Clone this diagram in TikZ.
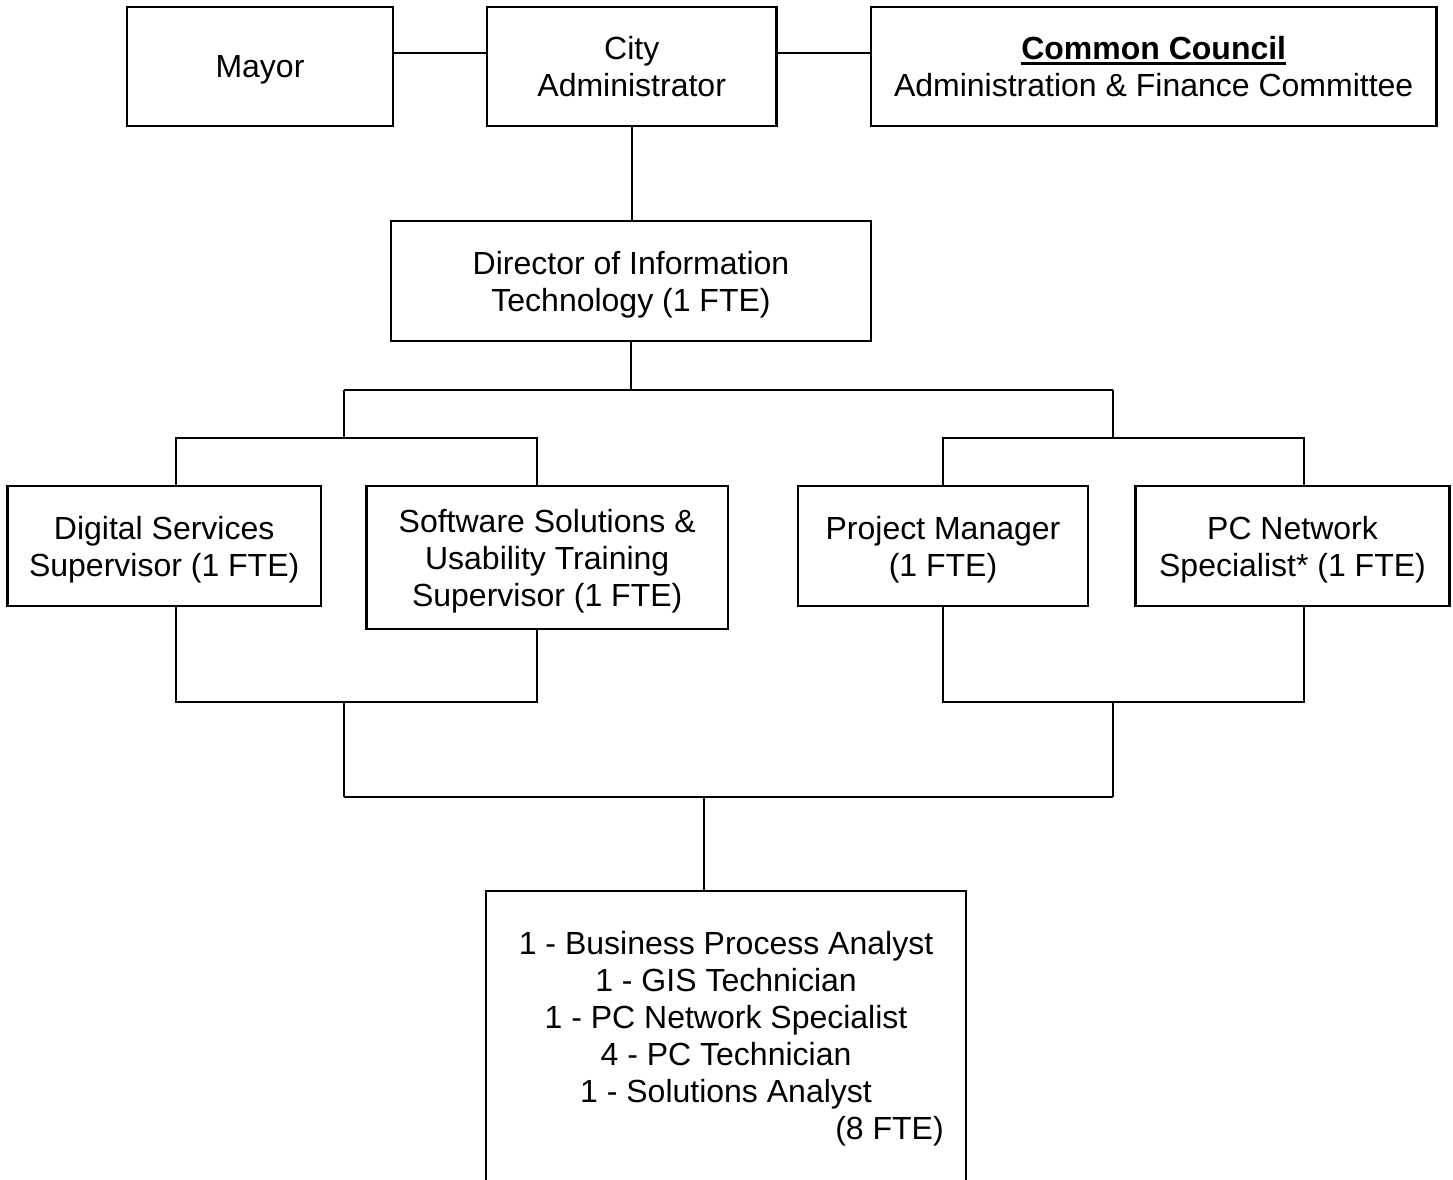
\documentclass[tikz,border=0pt]{standalone}
\usepackage{fontspec}
\setmainfont{Liberation Sans}
\newcommand{\ulbold}[1]{\setbox0\hbox{\textbf{#1}}\rlap{\rule[-5pt]{\wd0}{3pt}}\box0}
\begin{document}
\begin{tikzpicture}[x=1pt,y=-1pt,
  box/.style={draw, line width=2.3pt, inner sep=0pt, align=center, text depth=0pt, font=\fontsize{32}{37}\selectfont},
  conn/.style={line width=2pt}]
\useasboundingbox[fill=white] (0,0) rectangle (1453,1179);
% top row
\node[box, minimum width=265.5pt, minimum height=119pt] (mayor) at (260,66.5) {Mayor};
\node[box, minimum width=289.5pt, minimum height=119pt] (admin) at (631.7,66.5) {City\\Administrator};
\node[box, minimum width=565.5pt, minimum height=119pt] (council) at (1153.7,66.5) {\ulbold{Common Council}\\Administration \& Finance Committee};
% director
\node[box, minimum width=480pt, minimum height=120pt] (director) at (631,281) {Director of Information\\Technology (1 FTE)};
% second row
\node[box, minimum width=313.5pt, minimum height=120pt] (digital) at (164.2,546) {Digital Services\\Supervisor (1 FTE)};
\node[box, minimum width=361.5pt, minimum height=143pt] (software) at (547.2,557.5) {Software Solutions \&\\Usability Training\\Supervisor (1 FTE)};
\node[box, minimum width=290pt, minimum height=120pt] (pm) at (943,546) {Project Manager\\(1 FTE)};
\node[box, minimum width=314pt, minimum height=120pt] (pcn) at (1292.5,546) {PC Network\\Specialist* (1 FTE)};
% staff box (open at the bottom)
\node[box, draw=none, minimum width=478pt, minimum height=287pt] (staff) at (726,1035.5)
  {1 - Business Process Analyst\\1 - GIS Technician\\1 - PC Network Specialist\\4 - PC Technician\\1 - Solutions Analyst\\\hspace*{327pt}(8 FTE)};
\draw[line width=2.3pt] (staff.south west) -- (staff.north west) -- (staff.north east) -- (staff.south east);
% connectors
\coordinate (ty) at (0,53);
\draw[conn] (mayor.east |- ty) -- (admin.west |- ty);
\draw[conn] (admin.east |- ty) -- (council.west |- ty);
\draw[conn] (admin.south) -- (admin.south |- director.north);
\coordinate (j0) at (631,390);
\coordinate (jl) at (344,390);
\coordinate (jr) at (1112.5,390);
\draw[conn] (director.south) -- (j0);
\draw[conn] (jl) -- (jr);
\coordinate (jl2) at (344,437.5);
\coordinate (xl1) at (176,437.5);
\coordinate (xl2) at (537,437.5);
\draw[conn] (jl) -- (jl2);
\draw[conn] (digital.north -| xl1) -- (xl1) -- (xl2) -- (software.north -| xl2);
\coordinate (jr2) at (1112.5,438);
\coordinate (xr1) at (943,438);
\coordinate (xr2) at (1303.5,438);
\draw[conn] (jr) -- (jr2);
\draw[conn] (pm.north -| xr1) -- (xr1) -- (xr2) -- (pcn.north -| xr2);
% lower joins
\coordinate (bl1) at (176,701.5);
\coordinate (bl2) at (537,701.5);
\coordinate (bl0) at (344,701.5);
\coordinate (ml) at (344,797);
\draw[conn] (digital.south -| bl1) -- (bl1) -- (bl2) -- (software.south -| bl2);
\draw[conn] (bl0) -- (ml);
\coordinate (br1) at (943,702);
\coordinate (br2) at (1303.5,702);
\coordinate (br0) at (1113,702);
\coordinate (mr) at (1113,797);
\draw[conn] (pm.south -| br1) -- (br1) -- (br2) -- (pcn.south -| br2);
\draw[conn] (br0) -- (mr);
\draw[conn] (ml) -- (mr);
\coordinate (mc) at (704,797);
\draw[conn] (mc) -- (staff.north -| mc);
\end{tikzpicture}
\end{document}
